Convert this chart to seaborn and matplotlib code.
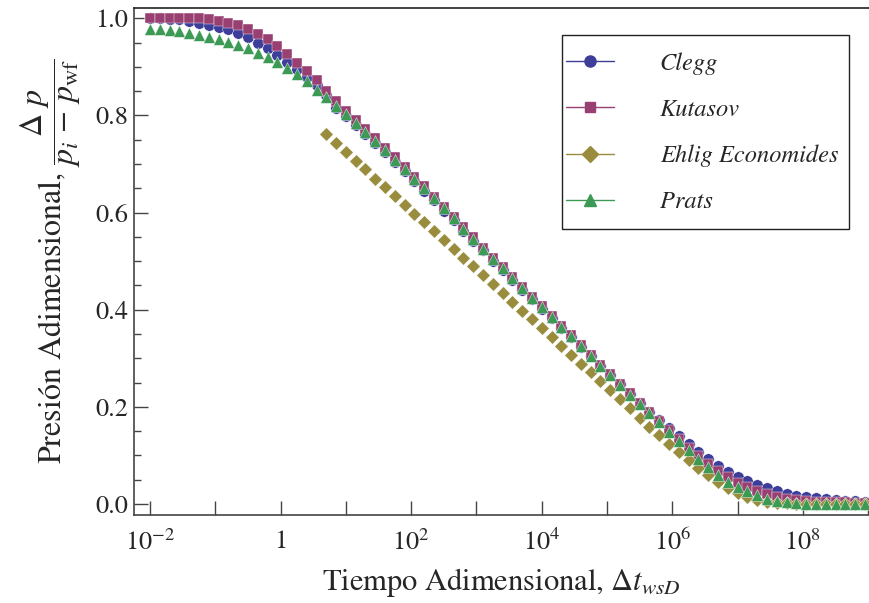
import numpy as np
import pandas as pd
import matplotlib
matplotlib.use('Agg')
import matplotlib.pyplot as plt
from matplotlib.lines import Line2D
from matplotlib.patches import Rectangle
from matplotlib.ticker import FixedLocator, FuncFormatter, MultipleLocator
import seaborn as sns

# log10 of the dimensionless time (sample points of the curves)
log_t = [-2.00, -1.85, -1.70, -1.55, -1.40, -1.25, -1.10, -0.95, -0.80, -0.65,
         -0.50, -0.35, -0.20, -0.05, 0.10, 0.25, 0.40, 0.55, 0.70, 0.85,
         1.00, 1.15, 1.30, 1.45, 1.60, 1.75, 1.90, 2.05, 2.20, 2.35,
         2.50, 2.65, 2.80, 2.95, 3.10, 3.25, 3.40, 3.55, 3.70, 3.85,
         4.00, 4.15, 4.30, 4.45, 4.60, 4.75, 4.90, 5.05, 5.20, 5.35,
         5.50, 5.65, 5.80, 5.95, 6.10, 6.25, 6.40, 6.55, 6.70, 6.85,
         7.00, 7.15, 7.30, 7.45, 7.60, 7.75, 7.90, 8.05, 8.20, 8.35,
         8.50, 8.65, 8.80, 8.95]

clegg = [1.000, 1.000, 0.999, 0.998, 0.995, 0.991, 0.987, 0.982, 0.977, 0.970,
         0.961, 0.950, 0.938, 0.925, 0.911, 0.896, 0.880, 0.863, 0.843, 0.816,
         0.798, 0.780, 0.762, 0.743, 0.724, 0.705, 0.685, 0.665, 0.645, 0.625,
         0.604, 0.584, 0.563, 0.542, 0.522, 0.501, 0.481, 0.461, 0.441, 0.421,
         0.401, 0.382, 0.362, 0.343, 0.323, 0.304, 0.284, 0.265, 0.246, 0.227,
         0.208, 0.190, 0.173, 0.156, 0.139, 0.123, 0.107, 0.092, 0.078, 0.066,
         0.056, 0.047, 0.039, 0.032, 0.026, 0.021, 0.017, 0.014, 0.012, 0.010,
         0.008, 0.007, 0.006, 0.005]

kutasov = [1.000, 1.000, 1.000, 1.000, 1.000, 1.000, 0.998, 0.995, 0.991, 0.986,
           0.978, 0.968, 0.957, 0.942, 0.926, 0.909, 0.891, 0.872, 0.851, 0.830,
           0.810, 0.791, 0.772, 0.753, 0.734, 0.714, 0.694, 0.674, 0.654, 0.633,
           0.612, 0.591, 0.570, 0.549, 0.528, 0.507, 0.487, 0.467, 0.447, 0.427,
           0.407, 0.387, 0.367, 0.347, 0.327, 0.307, 0.287, 0.267, 0.247, 0.228,
           0.208, 0.189, 0.170, 0.152, 0.134, 0.116, 0.099, 0.083, 0.068, 0.055,
           0.044, 0.035, 0.027, 0.020, 0.015, 0.011, 0.008, 0.006, 0.005, 0.004,
           0.003, 0.003, 0.002, 0.002]

# Ehlig Economides only exists from log_t = 0.70 on
ehlig_log_t = log_t[18:]
ehlig = [0.761, 0.743, 0.725, 0.707, 0.689, 0.670, 0.652, 0.634, 0.616, 0.598,
         0.580, 0.562, 0.543, 0.525, 0.507, 0.489, 0.471, 0.453, 0.435, 0.416,
         0.398, 0.380, 0.362, 0.344, 0.326, 0.307, 0.289, 0.271, 0.253, 0.235,
         0.217, 0.198, 0.177, 0.158, 0.141, 0.124, 0.107, 0.090, 0.075, 0.060,
         0.046, 0.033, 0.022, 0.014, 0.008, 0.004, 0.002, 0.001, 0.000, 0.000,
         0.000, 0.000, 0.000, 0.000, 0.000, 0.000]

prats = [0.978, 0.977, 0.975, 0.973, 0.970, 0.966, 0.962, 0.957, 0.951, 0.945,
         0.938, 0.929, 0.920, 0.910, 0.898, 0.885, 0.870, 0.853, 0.837, 0.819,
         0.802, 0.784, 0.766, 0.747, 0.729, 0.709, 0.690, 0.670, 0.650, 0.629,
         0.609, 0.588, 0.567, 0.546, 0.526, 0.505, 0.485, 0.465, 0.445, 0.425,
         0.405, 0.385, 0.365, 0.345, 0.325, 0.305, 0.285, 0.265, 0.245, 0.225,
         0.206, 0.187, 0.168, 0.149, 0.130, 0.111, 0.093, 0.076, 0.060, 0.046,
         0.035, 0.026, 0.018, 0.011, 0.006, 0.003, 0.001, 0.000, 0.000, 0.000,
         0.000, 0.000, 0.000, 0.000]

names = ['Clegg', 'Kutasov', 'Ehlig Economides', 'Prats']
colors = ['#3d3d9a', '#984072', '#998c3d', '#3d9a55']
markers = ['o', 's', 'D', '^']
sizes = [68, 55, 48, 72]

series = {
    'Clegg': (log_t, clegg),
    'Kutasov': (log_t, kutasov),
    'Ehlig Economides': (ehlig_log_t, ehlig),
    'Prats': (log_t, prats),
}

sns.set_style('white')
plt.rcParams['font.family'] = ['STIXGeneral', 'Liberation Serif', 'DejaVu Serif']
plt.rcParams['mathtext.fontset'] = 'stix'

fig, ax = plt.subplots(figsize=(8.7, 6.03), dpi=100)
fig.subplots_adjust(left=0.154, right=0.999, top=0.987, bottom=0.146)

for name, color, mk, s in zip(names, colors, markers, sizes):
    lx, vals = series[name]
    df = pd.DataFrame({'t': np.power(10.0, lx), 'p': vals})
    sns.scatterplot(data=df, x='t', y='p', ax=ax, color=color, marker=mk, s=s,
                    edgecolor='white', linewidth=0.3, zorder=3)

ax.set_xscale('log')
ax.set_xlim(10 ** -2.246, 10 ** 9.015)
ax.set_ylim(-0.0227, 1.0216)

ax.xaxis.set_major_locator(FixedLocator([10.0 ** k for k in range(-2, 10)]))
ax.xaxis.set_minor_locator(FixedLocator([]))


def fmt_x(v, pos):
    k = int(round(np.log10(v)))
    if k % 2:
        return ''
    if k == 0:
        return '1'
    return r'$10^{%d}$' % k


ax.xaxis.set_major_formatter(FuncFormatter(fmt_x))
ax.yaxis.set_major_locator(MultipleLocator(0.2))
ax.yaxis.set_minor_locator(MultipleLocator(0.05))
ax.yaxis.set_major_formatter(FuncFormatter(lambda v, p: '%.1f' % v))

ax.tick_params(axis='both', which='both', bottom=True, left=True,
               top=False, right=False)
ax.tick_params(axis='both', which='major', direction='in', length=10, width=1,
               color='#444444', labelsize=19)
ax.tick_params(axis='x', which='major', pad=11)
ax.tick_params(axis='y', which='major', pad=4)
ax.tick_params(axis='y', which='minor', direction='in', length=5, width=1,
               color='#444444')

for side in ['left', 'bottom']:
    ax.spines[side].set_color('#444444')
    ax.spines[side].set_linewidth(1.2)
ax.spines['top'].set_color('#222222')
ax.spines['top'].set_linewidth(1.2)
ax.spines['right'].set_visible(False)

ax.set_xlabel(r'Tiempo Adimensional, $\Delta t_{wsD}$', fontsize=22, labelpad=7)
ax.set_ylabel(r'Presión Adimensional, $\dfrac{\Delta\ p}{p_i\,-\,p_{\mathrm{wf}}}$',
              fontsize=23, labelpad=9)

# legend entries without frame, box drawn separately
handles = [Line2D([0], [0], color=c, lw=1, marker=m, markersize=8 if m != 's' else 7,
                  markeredgecolor=c)
           for c, m in zip(colors, markers)]
leg = ax.legend(handles, names, loc='upper left',
                bbox_to_anchor=(566 / 870, 1 - 52 / 603),
                bbox_transform=fig.transFigure,
                prop={'style': 'italic', 'size': 17.6},
                frameon=False, borderpad=0, labelspacing=0.97,
                handlelength=1.96, handletextpad=1.88, borderaxespad=0)
fig.patches.append(Rectangle((562 / 870, 1 - 229 / 603), 287 / 870, 194 / 603,
                             transform=fig.transFigure, fill=False,
                             edgecolor='#222222', linewidth=1.0, zorder=5))

fig.savefig('out.png', dpi=100)
